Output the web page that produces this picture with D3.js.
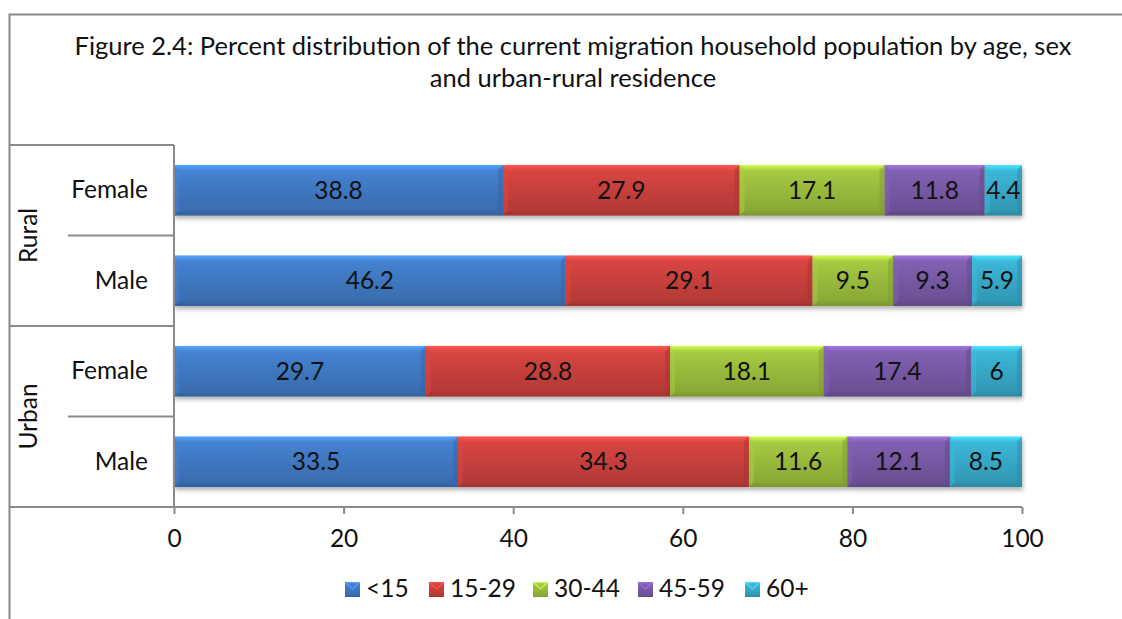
<!DOCTYPE html>
<html><head><meta charset="utf-8">
<script src="https://cdn.jsdelivr.net/npm/d3@7"></script>
<style>body{margin:0;background:#fff}svg{display:block;font-family:Lato,"Open Sans",sans-serif}</style>
</head><body><svg id="c" width="1122" height="619"></svg>
<script>
const groups = ["Rural", "Urban"];
const rows = [
  {group:"Rural", sex:"Female"},
  {group:"Rural", sex:"Male"},
  {group:"Urban", sex:"Female"},
  {group:"Urban", sex:"Male"}
];
const seriesNames = ["<15", "15-29", "30-44", "45-59", "60+"];
const under15 = [38.8, 46.2, 29.7, 33.5];
const age15_29 = [27.9, 29.1, 28.8, 34.3];
const age30_44 = [17.1, 9.5, 18.1, 11.6];
const age45_59 = [11.8, 9.3, 17.4, 12.1];
const age60plus = [4.4, 5.9, 6, 8.5];
const xTicks = [0, 20, 40, 60, 80, 100];
const colors = ["#3F77C0", "#C63F3C", "#98B93C", "#7658A3", "#37A7C6"];
const titleLines = ["Figure 2.4: Percent distribution of the current migration household population by age, sex", "and urban-rural residence"];

const FS = 24.5;
const seriesVals = [under15, age15_29, age30_44, age45_59, age60plus];
const table = rows.map((r,i)=>{const o={key:r.group+"-"+r.sex}; seriesNames.forEach((s,j)=>o[s]=seriesVals[j][i]); return o;});
const stacked = d3.stack().keys(seriesNames)(table);

const svg = d3.select("#c");
const defs = svg.append("defs");
colors.forEach((c,i)=>{
  const g = defs.append("linearGradient").attr("id","g"+i).attr("x1",0).attr("y1",0).attr("x2",0).attr("y2",1);
  const base = d3.color(c);
  g.append("stop").attr("offset","0%").attr("stop-color", d3.color(c).brighter(0.9));
  g.append("stop").attr("offset","12%").attr("stop-color", d3.color(c).brighter(0.25));
  g.append("stop").attr("offset","50%").attr("stop-color", base);
  g.append("stop").attr("offset","88%").attr("stop-color", d3.color(c).darker(0.25));
  g.append("stop").attr("offset","100%").attr("stop-color", d3.color(c).darker(0.6));
});
const f = defs.append("filter").attr("id","sh").attr("x","-5%").attr("y","-20%").attr("width","115%").attr("height","160%");
f.append("feDropShadow").attr("dx",1).attr("dy",3).attr("stdDeviation",2).attr("flood-color","#000").attr("flood-opacity",0.3);

// outer frame
svg.append("path").attr("d","M9.5,619 V14.5 H1122").attr("fill","none").attr("stroke","#888").attr("stroke-width",2);

const x = d3.scaleLinear().domain([0,100]).range([174,1022]);
const y = d3.scaleBand().domain(table.map(d=>d.key)).range([145,507]).paddingInner(0.44).paddingOuter(0.22);
const yRow = d3.scaleBand().domain(table.map(d=>d.key)).range([145,507]);

// title
svg.append("g").selectAll("text").data(titleLines).join("text")
  .attr("x",573).attr("y",(d,i)=>55+i*32).attr("text-anchor","middle")
  .attr("font-size",25.5).attr("fill","#111").text(d=>d);

// category table lines
const lc = "#8a8a8a";
const L = svg.append("g").attr("stroke",lc).attr("stroke-width",2).attr("fill","none");
L.append("line").attr("x1",9).attr("x2",174).attr("y1",145).attr("y2",145);
groups.forEach((g,gi)=>{
  const keys = table.filter(d=>d.key.startsWith(g)).map(d=>d.key);
  const y0 = yRow(keys[0]), y1 = yRow(keys[keys.length-1])+yRow.bandwidth();
  L.append("line").attr("x1",9).attr("x2",174).attr("y1",y1).attr("y2",y1);
  keys.slice(1).forEach(k=>L.append("line").attr("x1",68).attr("x2",174).attr("y1",yRow(k)).attr("y2",yRow(k)));
  svg.append("text").attr("transform",`translate(37,${(y0+y1)/2}) rotate(-90)`).attr("text-anchor","middle")
    .attr("font-size",FS).attr("fill","#111").text(g);
});
svg.append("g").selectAll("text").data(rows).join("text")
  .attr("x",148).attr("y",(d,i)=>yRow(table[i].key)+yRow.bandwidth()/2+8).attr("text-anchor","end")
  .attr("font-size",FS).attr("fill","#111").text(d=>d.sex);

// bars
const bars = svg.append("g").attr("filter","url(#sh)");
stacked.forEach((s,si)=>{
  bars.append("g").selectAll("rect").data(s).join("rect")
    .attr("x",d=>x(d[0])).attr("width",d=>x(d[1])-x(d[0]))
    .attr("y",d=>y(d.data.key)).attr("height",y.bandwidth())
    .attr("fill",`url(#g${si})`);
});
// bevel edge highlights
stacked.forEach((s,si)=>{
  const c = colors[si];
  svg.append("g").selectAll("path").data(s).join("path")
    .attr("d",d=>{const x0=x(d[0]),x1=x(d[1]),y0=y(d.data.key),h=y.bandwidth(),b=5;
      return `M${x0},${y0}L${x0+b},${y0+b}L${x0+b},${y0+h-b}L${x0},${y0+h}Z`;})
    .attr("fill",d3.color(c).brighter(0.3)).attr("opacity",0.5);
  svg.append("g").selectAll("path").data(s).join("path")
    .attr("d",d=>{const x0=x(d[0]),x1=x(d[1]),y0=y(d.data.key),h=y.bandwidth(),b=5;
      return `M${x1},${y0}L${x1-b},${y0+b}L${x1-b},${y0+h-b}L${x1},${y0+h}Z`;})
    .attr("fill",d3.color(c).darker(0.5)).attr("opacity",0.5);
});
// value labels
stacked.forEach((s,si)=>{
  svg.append("g").selectAll("text").data(s).join("text")
    .attr("x",d=>(x(d[0])+x(d[1]))/2).attr("y",d=>y(d.data.key)+y.bandwidth()/2+8.5)
    .attr("text-anchor","middle").attr("font-size",FS).attr("fill","#111")
    .text(d=>d.data[seriesNames[si]]);
});

// axes
const ax = svg.append("g").attr("transform","translate(0,507)")
  .call(d3.axisBottom(x).tickValues(xTicks).tickSize(7).tickSizeOuter(0).tickPadding(16));
ax.select(".domain").remove();
ax.selectAll(".tick line").attr("stroke",lc).attr("stroke-width",2);
ax.selectAll(".tick text").attr("font-size",FS).attr("fill","#111").attr("font-family","Lato,'Open Sans',sans-serif");
svg.append("line").attr("x1",174).attr("x2",1022).attr("y1",507).attr("y2",507).attr("stroke",lc).attr("stroke-width",2);
svg.append("line").attr("x1",174).attr("x2",174).attr("y1",145).attr("y2",507).attr("stroke",lc).attr("stroke-width",2);

// legend
const legX = [345, 429, 533, 638, 745];
const lg = svg.append("g").selectAll("g").data(seriesNames).join("g").attr("transform",(d,i)=>`translate(${legX[i]},582)`);
lg.append("rect").attr("width",15).attr("height",15).attr("fill",(d,i)=>`url(#g${i})`);
lg.append("path").attr("d","M0,0L7.5,7L15,0").attr("fill","none").attr("stroke",(d,i)=>d3.color(colors[i]).brighter(0.8)).attr("stroke-width",1.2);
lg.append("text").attr("x",21).attr("y",15).attr("font-size",FS).attr("fill","#111").text(d=>d);
</script></body></html>
